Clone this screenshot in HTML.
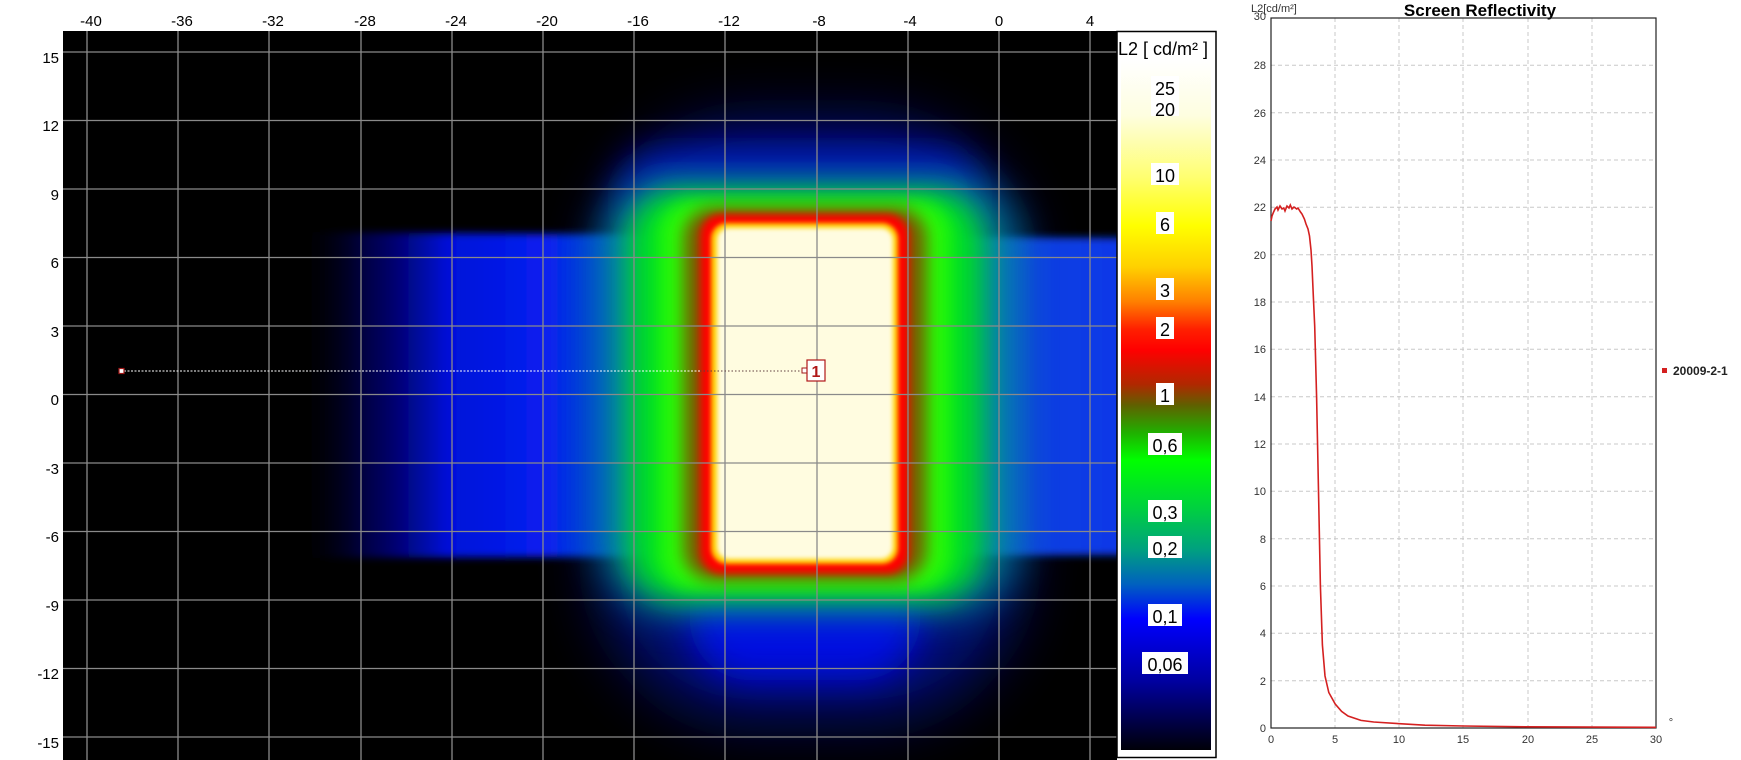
<!DOCTYPE html>
<html><head><meta charset="utf-8"><style>
html,body{margin:0;padding:0;background:#fff;width:1741px;height:760px;overflow:hidden}
svg{display:block}
</style></head><body>
<svg width="1741" height="760" viewBox="0 0 1741 760" xmlns="http://www.w3.org/2000/svg" font-family="'Liberation Sans', 'DejaVu Sans', sans-serif">
<defs>
<clipPath id="pc"><rect x="63" y="31" width="1054" height="729"/></clipPath>
<filter id="b40" x="-50%" y="-50%" width="200%" height="200%"><feGaussianBlur stdDeviation="30"/></filter>
<filter id="b20" x="-50%" y="-50%" width="200%" height="200%"><feGaussianBlur stdDeviation="18"/></filter>
<filter id="b12" x="-50%" y="-50%" width="200%" height="200%"><feGaussianBlur stdDeviation="14"/></filter>
<filter id="b6" x="-50%" y="-50%" width="200%" height="200%"><feGaussianBlur stdDeviation="8"/></filter>
<filter id="b3" x="-50%" y="-50%" width="200%" height="200%"><feGaussianBlur stdDeviation="4"/></filter>
<filter id="b2" x="-50%" y="-50%" width="200%" height="200%"><feGaussianBlur stdDeviation="2.5"/></filter>
<linearGradient id="band" x1="300" y1="0" x2="1117" y2="0" gradientUnits="userSpaceOnUse">
<stop offset="0" stop-color="#000010" stop-opacity="0"/>
<stop offset="0.08" stop-color="#00008a" stop-opacity="0.5"/>
<stop offset="0.18" stop-color="#0010d8"/>
<stop offset="0.3" stop-color="#0820f0"/>
<stop offset="0.38" stop-color="#0050c8"/>
<stop offset="0.8" stop-color="#0070b0"/>
<stop offset="0.9" stop-color="#1040e0"/>
<stop offset="1" stop-color="#1038e8"/>
</linearGradient>
<linearGradient id="cb" x1="0" y1="60" x2="0" y2="750" gradientUnits="userSpaceOnUse">
<stop offset="0" stop-color="#ffffff"/>
<stop offset="0.08" stop-color="#fefee0"/>
<stop offset="0.17" stop-color="#ffff70"/>
<stop offset="0.24" stop-color="#ffff00"/>
<stop offset="0.3" stop-color="#ffd000"/>
<stop offset="0.35" stop-color="#ff8000"/>
<stop offset="0.39" stop-color="#ff2000"/>
<stop offset="0.42" stop-color="#ff0000"/>
<stop offset="0.47" stop-color="#b02800"/>
<stop offset="0.5" stop-color="#606000"/>
<stop offset="0.54" stop-color="#20b000"/>
<stop offset="0.58" stop-color="#00ff00"/>
<stop offset="0.65" stop-color="#00d040"/>
<stop offset="0.71" stop-color="#00a080"/>
<stop offset="0.76" stop-color="#0060c0"/>
<stop offset="0.81" stop-color="#0000ff"/>
<stop offset="0.9" stop-color="#0000a0"/>
<stop offset="1" stop-color="#000008"/>
</linearGradient>
</defs>

<!-- heatmap -->
<rect x="63" y="31" width="1054" height="729" fill="#000"/>
<g clip-path="url(#pc)">
  <rect x="600" y="120" width="420" height="600" rx="150" fill="#0018c0" filter="url(#b40)" opacity="0.6"/>
  <rect x="690" y="530" width="230" height="150" rx="60" fill="#0010f0" filter="url(#b20)" opacity="0.9"/>
  <rect x="620" y="150" width="360" height="100" rx="40" fill="#0018e0" filter="url(#b20)" opacity="0.7"/>
  <polygon points="300,232 1130,238 1130,555 300,558" fill="url(#band)" filter="url(#b3)"/>
  <rect x="600" y="175" width="420" height="440" rx="70" fill="#0090a0" filter="url(#b20)" opacity="0.7"/>
  <rect x="628" y="190" width="354" height="410" rx="50" fill="#00e020" filter="url(#b12)"/>
  <rect x="660" y="200" width="290" height="390" rx="35" fill="#30ff00" filter="url(#b6)" opacity="0.8"/>
  <rect x="684" y="208" width="242" height="372" rx="30" fill="#7a5a00" filter="url(#b6)"/>
  <rect x="700" y="214" width="209" height="360" rx="22" fill="#ff0000" filter="url(#b3)"/>
  <rect x="711" y="223" width="187" height="341" rx="16" fill="#ffd000" filter="url(#b2)"/>
  <rect x="717" y="228" width="176" height="331" rx="12" fill="#fffce0" filter="url(#b2)"/>
</g>
<!-- grid -->
<g stroke="#8a8a8a" stroke-width="1.3">
  <line x1="87" y1="31" x2="87" y2="760"/><line x1="178" y1="31" x2="178" y2="760"/><line x1="269" y1="31" x2="269" y2="760"/><line x1="361" y1="31" x2="361" y2="760"/><line x1="452" y1="31" x2="452" y2="760"/><line x1="543" y1="31" x2="543" y2="760"/><line x1="634" y1="31" x2="634" y2="760"/><line x1="725" y1="31" x2="725" y2="760"/><line x1="817" y1="31" x2="817" y2="760"/><line x1="908" y1="31" x2="908" y2="760"/><line x1="999" y1="31" x2="999" y2="760"/><line x1="1090" y1="31" x2="1090" y2="760"/>
  <line x1="63" y1="52" x2="1117" y2="52"/><line x1="63" y1="120.5" x2="1117" y2="120.5"/><line x1="63" y1="189" x2="1117" y2="189"/><line x1="63" y1="257.5" x2="1117" y2="257.5"/><line x1="63" y1="326" x2="1117" y2="326"/><line x1="63" y1="394.5" x2="1117" y2="394.5"/><line x1="63" y1="463" x2="1117" y2="463"/><line x1="63" y1="531.5" x2="1117" y2="531.5"/><line x1="63" y1="600" x2="1117" y2="600"/><line x1="63" y1="668.5" x2="1117" y2="668.5"/><line x1="63" y1="737" x2="1117" y2="737"/>
</g>
<!-- marker -->
<line x1="124" y1="371" x2="700" y2="371" stroke="#fff" stroke-width="1" stroke-dasharray="2,1.5"/>
<line x1="700" y1="371" x2="804" y2="371" stroke="#604040" stroke-width="1" stroke-dasharray="1.5,2"/>
<rect x="119" y="368.5" width="5" height="5" fill="#fff" stroke="#a01818" stroke-width="1.2"/>
<rect x="802" y="368" width="5" height="5" fill="#fff" stroke="#a01818" stroke-width="1"/>
<rect x="807" y="360" width="18" height="21" fill="#fff" stroke="#b01818" stroke-width="1.2"/>
<text x="816" y="377" font-size="16" fill="#b01818" text-anchor="middle" font-weight="bold">1</text>

<!-- axes labels -->
<g font-size="15" fill="#000" text-anchor="middle">
<text x="91" y="26">-40</text><text x="182" y="26">-36</text><text x="273" y="26">-32</text><text x="365" y="26">-28</text><text x="456" y="26">-24</text><text x="547" y="26">-20</text><text x="638" y="26">-16</text><text x="729" y="26">-12</text><text x="819" y="26">-8</text><text x="910" y="26">-4</text><text x="999" y="26">0</text><text x="1090" y="26">4</text>
</g>
<g font-size="15" fill="#000" text-anchor="end">
<text x="59" y="63">15</text><text x="59" y="131">12</text><text x="59" y="200">9</text><text x="59" y="268">6</text><text x="59" y="337">3</text><text x="59" y="405">0</text><text x="59" y="474">-3</text><text x="59" y="542">-6</text><text x="59" y="611">-9</text><text x="59" y="679">-12</text><text x="59" y="748">-15</text>
</g>

<!-- colorbar -->
<rect x="1117" y="31.5" width="99" height="726" fill="#fff" stroke="#000" stroke-width="1.5"/>
<rect x="1121" y="60" width="90" height="690" fill="url(#cb)"/>
<text x="1118" y="55" font-size="18" fill="#000">L2 [ cd/m² ]</text>
<g font-size="18" fill="#000" text-anchor="middle">
<g fill="#fff"><rect x="1151" y="76" width="28" height="40"/><rect x="1151" y="163" width="28" height="22"/><rect x="1156" y="212" width="18" height="22"/><rect x="1156" y="278" width="18" height="22"/><rect x="1156" y="317" width="18" height="22"/><rect x="1156" y="383" width="18" height="22"/><rect x="1148" y="433" width="34" height="22"/><rect x="1148" y="500" width="34" height="22"/><rect x="1148" y="536" width="34" height="22"/><rect x="1148" y="604" width="34" height="22"/><rect x="1142" y="652" width="46" height="22"/></g>
<text x="1165" y="95">25</text><text x="1165" y="116">20</text><text x="1165" y="182">10</text><text x="1165" y="231">6</text><text x="1165" y="297">3</text><text x="1165" y="336">2</text><text x="1165" y="402">1</text><text x="1165" y="452">0,6</text><text x="1165" y="519">0,3</text><text x="1165" y="555">0,2</text><text x="1165" y="623">0,1</text><text x="1165" y="671">0,06</text>
</g>

<!-- right chart -->
<text x="1480" y="16" font-size="17" font-weight="bold" text-anchor="middle" fill="#000">Screen Reflectivity</text>
<text x="1251" y="12" font-size="11" fill="#333">L2[cd/m²]</text>
<g stroke="#c8c8c8" stroke-width="1" stroke-dasharray="4,3">
<line x1="1335" y1="18" x2="1335" y2="728"/><line x1="1399" y1="18" x2="1399" y2="728"/><line x1="1463" y1="18" x2="1463" y2="728"/><line x1="1528" y1="18" x2="1528" y2="728"/><line x1="1592" y1="18" x2="1592" y2="728"/>
<line x1="1271" y1="65.3" x2="1656" y2="65.3"/><line x1="1271" y1="112.7" x2="1656" y2="112.7"/><line x1="1271" y1="160" x2="1656" y2="160"/><line x1="1271" y1="207.3" x2="1656" y2="207.3"/><line x1="1271" y1="254.7" x2="1656" y2="254.7"/><line x1="1271" y1="302" x2="1656" y2="302"/><line x1="1271" y1="349.3" x2="1656" y2="349.3"/><line x1="1271" y1="396.7" x2="1656" y2="396.7"/><line x1="1271" y1="444" x2="1656" y2="444"/><line x1="1271" y1="491.3" x2="1656" y2="491.3"/><line x1="1271" y1="538.7" x2="1656" y2="538.7"/><line x1="1271" y1="586" x2="1656" y2="586"/><line x1="1271" y1="633.3" x2="1656" y2="633.3"/><line x1="1271" y1="680.7" x2="1656" y2="680.7"/>
</g>
<rect x="1271" y="18" width="385" height="710" fill="none" stroke="#222" stroke-width="1.2"/>
<g font-size="11" fill="#333" text-anchor="end">
<text x="1266" y="732">0</text><text x="1266" y="685">2</text><text x="1266" y="637">4</text><text x="1266" y="590">6</text><text x="1266" y="543">8</text><text x="1266" y="495">10</text><text x="1266" y="448">12</text><text x="1266" y="401">14</text><text x="1266" y="353">16</text><text x="1266" y="306">18</text><text x="1266" y="259">20</text><text x="1266" y="211">22</text><text x="1266" y="164">24</text><text x="1266" y="117">26</text><text x="1266" y="69">28</text><text x="1266" y="20">30</text>
</g>
<g font-size="11" fill="#333" text-anchor="middle">
<text x="1271" y="743">0</text><text x="1335" y="743">5</text><text x="1399" y="743">10</text><text x="1463" y="743">15</text><text x="1528" y="743">20</text><text x="1592" y="743">25</text><text x="1656" y="743">30</text>
<text x="1671" y="726">°</text>
</g>
<polyline fill="none" stroke="#d42020" stroke-width="1.6" points="1271,221 1272,216 1273.6,212 1275,209 1277,207 1278,210 1280,206 1282,209 1283.8,208 1285,211 1287,206 1289,208 1290.3,205 1292,209 1294,207 1296.7,209 1298,208 1300.5,212 1302,214 1304.4,219 1306,224 1308,229 1309.5,236 1311,250 1312,266 1313.5,300 1314.7,326 1316.6,397 1318.5,491 1320.4,586 1322.4,645 1325,676 1328.8,692.5 1335.2,704 1341.6,711.4 1348,716 1360.9,720.4 1373.7,722 1399.4,723.7 1425,725.2 1463.6,726 1527.8,726.8 1656,727.3"/>
<rect x="1662" y="368" width="5" height="5" fill="#d42020"/>
<text x="1673" y="375" font-size="12" font-weight="bold" fill="#222">20009-2-1</text>
</svg>
</body></html>
